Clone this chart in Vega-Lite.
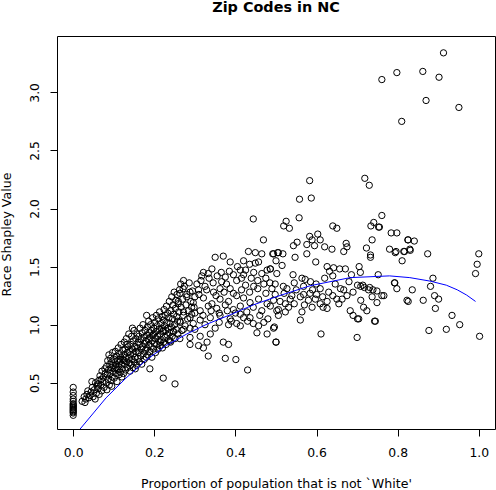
{
  "$schema": "https://vega.github.io/schema/vega-lite/v6.json",
  "width": 438,
  "height": 393,
  "autosize": {"type": "none"},
  "padding": {"left": 57, "top": 36, "right": 1, "bottom": 61},
  "title": {
    "text": "Zip Codes in NC",
    "font": "DejaVu Sans",
    "fontSize": 14.4,
    "fontWeight": "bold",
    "color": "#000",
    "anchor": "middle",
    "baseline": "alphabetic",
    "offset": 10
  },
  "config": {
    "view": {"stroke": "#000", "strokeWidth": 1},
    "axis": {
      "labelFont": "DejaVu Sans",
      "titleFont": "DejaVu Sans",
      "labelFontSize": 12.4,
      "titleFontSize": 12.6,
      "titleFontWeight": "normal",
      "labelColor": "#000",
      "titleColor": "#000",
      "tickColor": "#000",
      "tickSize": 7,
      "domain": false,
      "grid": false
    }
  },
  "layer": [
    {
      "data": {
        "values": [
          {"x": 0, "y": 0.46}, {"x": 0, "y": 0.42}, {"x": 0, "y": 0.39}, {"x": 0, "y": 0.36}, {"x": 0, "y": 0.34},
          {"x": 0, "y": 0.32}, {"x": 0, "y": 0.31}, {"x": 0, "y": 0.30}, {"x": 0, "y": 0.29}, {"x": 0, "y": 0.28},
          {"x": 0, "y": 0.27}, {"x": 0, "y": 0.26}, {"x": 0, "y": 0.25}, {"x": 0, "y": 0.24}, {"x": 0, "y": 0.22},
          {"x": 0.022, "y": 0.34}, {"x": 0.027, "y": 0.38}, {"x": 0.031, "y": 0.36}, {"x": 0.034, "y": 0.40},
          {"x": 0.038, "y": 0.37}, {"x": 0.036, "y": 0.43}, {"x": 0.041, "y": 0.39}, {"x": 0.029, "y": 0.33},
          {"x": 0.044, "y": 0.42}, {"x": 0.047, "y": 0.46}, {"x": 0.049, "y": 0.38}, {"x": 0.052, "y": 0.44},
          {"x": 0.055, "y": 0.50}, {"x": 0.057, "y": 0.41}, {"x": 0.059, "y": 0.47}, {"x": 0.054, "y": 0.36},
          {"x": 0.046, "y": 0.51}, {"x": 0.061, "y": 0.45}, {"x": 0.063, "y": 0.52}, {"x": 0.064, "y": 0.40},
          {"x": 0.066, "y": 0.56}, {"x": 0.068, "y": 0.48}, {"x": 0.070, "y": 0.43}, {"x": 0.071, "y": 0.60},
          {"x": 0.073, "y": 0.51}, {"x": 0.075, "y": 0.55}, {"x": 0.076, "y": 0.46}, {"x": 0.078, "y": 0.62},
          {"x": 0.079, "y": 0.58}, {"x": 0.062, "y": 0.49}, {"x": 0.069, "y": 0.53},
          {"x": 0.081, "y": 0.50}, {"x": 0.082, "y": 0.64}, {"x": 0.083, "y": 0.44}, {"x": 0.084, "y": 0.57},
          {"x": 0.085, "y": 0.69}, {"x": 0.086, "y": 0.53}, {"x": 0.087, "y": 0.61}, {"x": 0.088, "y": 0.74},
          {"x": 0.089, "y": 0.48}, {"x": 0.090, "y": 0.66}, {"x": 0.091, "y": 0.58}, {"x": 0.092, "y": 0.71},
          {"x": 0.093, "y": 0.52}, {"x": 0.094, "y": 0.63}, {"x": 0.095, "y": 0.68}, {"x": 0.096, "y": 0.55},
          {"x": 0.097, "y": 0.76}, {"x": 0.098, "y": 0.60}, {"x": 0.099, "y": 0.65}, {"x": 0.095, "y": 0.47},
          {"x": 0.101, "y": 0.54}, {"x": 0.102, "y": 0.70}, {"x": 0.103, "y": 0.62}, {"x": 0.104, "y": 0.77},
          {"x": 0.105, "y": 0.58}, {"x": 0.106, "y": 0.66}, {"x": 0.107, "y": 0.73}, {"x": 0.108, "y": 0.51},
          {"x": 0.109, "y": 0.69}, {"x": 0.110, "y": 0.61}, {"x": 0.111, "y": 0.80}, {"x": 0.112, "y": 0.64},
          {"x": 0.113, "y": 0.57}, {"x": 0.114, "y": 0.75}, {"x": 0.115, "y": 0.68}, {"x": 0.116, "y": 0.59},
          {"x": 0.117, "y": 0.72}, {"x": 0.118, "y": 0.83}, {"x": 0.119, "y": 0.66}, {"x": 0.120, "y": 0.55},
          {"x": 0.105, "y": 0.63}, {"x": 0.113, "y": 0.70},
          {"x": 0.121, "y": 0.62}, {"x": 0.122, "y": 0.78}, {"x": 0.123, "y": 0.70}, {"x": 0.124, "y": 0.58},
          {"x": 0.125, "y": 0.74}, {"x": 0.126, "y": 0.85}, {"x": 0.127, "y": 0.66}, {"x": 0.128, "y": 0.79},
          {"x": 0.129, "y": 0.61}, {"x": 0.130, "y": 0.72}, {"x": 0.131, "y": 0.88}, {"x": 0.132, "y": 0.68},
          {"x": 0.133, "y": 0.76}, {"x": 0.134, "y": 0.63}, {"x": 0.135, "y": 0.81}, {"x": 0.136, "y": 0.71},
          {"x": 0.137, "y": 0.92}, {"x": 0.138, "y": 0.67}, {"x": 0.139, "y": 0.77}, {"x": 0.140, "y": 0.60},
          {"x": 0.126, "y": 0.69}, {"x": 0.133, "y": 0.83},
          {"x": 0.141, "y": 0.74}, {"x": 0.142, "y": 0.83}, {"x": 0.143, "y": 0.66}, {"x": 0.144, "y": 0.90},
          {"x": 0.145, "y": 0.70}, {"x": 0.146, "y": 0.79}, {"x": 0.147, "y": 0.63}, {"x": 0.148, "y": 0.86},
          {"x": 0.149, "y": 0.75}, {"x": 0.150, "y": 0.95}, {"x": 0.151, "y": 0.68}, {"x": 0.152, "y": 0.81},
          {"x": 0.153, "y": 0.72}, {"x": 0.154, "y": 0.88}, {"x": 0.155, "y": 0.77}, {"x": 0.156, "y": 0.65},
          {"x": 0.157, "y": 0.92}, {"x": 0.158, "y": 0.80}, {"x": 0.159, "y": 0.71}, {"x": 0.160, "y": 0.85},
          {"x": 0.146, "y": 0.97}, {"x": 0.153, "y": 0.62},
          {"x": 0.161, "y": 0.76}, {"x": 0.162, "y": 0.90}, {"x": 0.163, "y": 0.68}, {"x": 0.164, "y": 0.83},
          {"x": 0.165, "y": 0.97}, {"x": 0.166, "y": 0.73}, {"x": 0.167, "y": 0.87}, {"x": 0.168, "y": 0.79},
          {"x": 0.169, "y": 0.66}, {"x": 0.170, "y": 0.93}, {"x": 0.171, "y": 0.81}, {"x": 0.172, "y": 1.00},
          {"x": 0.173, "y": 0.75}, {"x": 0.174, "y": 0.89}, {"x": 0.175, "y": 0.70}, {"x": 0.176, "y": 0.84},
          {"x": 0.177, "y": 0.95}, {"x": 0.178, "y": 0.78}, {"x": 0.179, "y": 0.86}, {"x": 0.180, "y": 0.72},
          {"x": 0.181, "y": 0.91}, {"x": 0.182, "y": 0.80}, {"x": 0.183, "y": 0.98}, {"x": 0.184, "y": 0.74},
          {"x": 0.185, "y": 0.87}, {"x": 0.186, "y": 1.03}, {"x": 0.187, "y": 0.83}, {"x": 0.188, "y": 0.93},
          {"x": 0.189, "y": 0.77}, {"x": 0.190, "y": 0.89}, {"x": 0.191, "y": 1.00}, {"x": 0.192, "y": 0.81},
          {"x": 0.193, "y": 0.95}, {"x": 0.194, "y": 0.72}, {"x": 0.195, "y": 0.86}, {"x": 0.196, "y": 1.06},
          {"x": 0.197, "y": 0.91}, {"x": 0.198, "y": 0.79}, {"x": 0.199, "y": 0.97}, {"x": 0.200, "y": 0.84},
          {"x": 0.201, "y": 1.02}, {"x": 0.202, "y": 0.88}, {"x": 0.203, "y": 0.76}, {"x": 0.204, "y": 0.94},
          {"x": 0.205, "y": 1.08}, {"x": 0.206, "y": 0.83}, {"x": 0.207, "y": 0.99}, {"x": 0.208, "y": 0.90},
          {"x": 0.209, "y": 0.79}, {"x": 0.210, "y": 1.05}, {"x": 0.211, "y": 0.86}, {"x": 0.212, "y": 0.96},
          {"x": 0.213, "y": 1.11}, {"x": 0.214, "y": 0.82}, {"x": 0.215, "y": 0.92}, {"x": 0.216, "y": 1.01},
          {"x": 0.217, "y": 0.87}, {"x": 0.218, "y": 0.97}, {"x": 0.219, "y": 1.07}, {"x": 0.220, "y": 0.80},
          {"x": 0.221, "y": 0.94}, {"x": 0.222, "y": 1.04}, {"x": 0.223, "y": 0.85}, {"x": 0.224, "y": 1.13},
          {"x": 0.225, "y": 0.99}, {"x": 0.226, "y": 0.89}, {"x": 0.227, "y": 1.08}, {"x": 0.228, "y": 0.95},
          {"x": 0.229, "y": 0.83}, {"x": 0.230, "y": 1.16}, {"x": 0.231, "y": 1.02}, {"x": 0.232, "y": 0.91},
          {"x": 0.233, "y": 1.10}, {"x": 0.234, "y": 0.97}, {"x": 0.235, "y": 0.87}, {"x": 0.236, "y": 1.06},
          {"x": 0.237, "y": 1.20}, {"x": 0.238, "y": 0.93}, {"x": 0.239, "y": 1.01}, {"x": 0.240, "y": 0.85},
          {"x": 0.241, "y": 1.12}, {"x": 0.242, "y": 0.98}, {"x": 0.243, "y": 1.24}, {"x": 0.244, "y": 0.90},
          {"x": 0.245, "y": 1.05}, {"x": 0.246, "y": 1.17}, {"x": 0.247, "y": 0.94}, {"x": 0.248, "y": 1.09},
          {"x": 0.249, "y": 1.28}, {"x": 0.250, "y": 1.00}, {"x": 0.251, "y": 0.88}, {"x": 0.252, "y": 1.14},
          {"x": 0.253, "y": 1.21}, {"x": 0.254, "y": 0.96}, {"x": 0.255, "y": 1.07}, {"x": 0.256, "y": 1.26},
          {"x": 0.257, "y": 1.03}, {"x": 0.258, "y": 0.92}, {"x": 0.259, "y": 1.18}, {"x": 0.260, "y": 1.11},
          {"x": 0.262, "y": 1.30}, {"x": 0.264, "y": 1.02}, {"x": 0.266, "y": 1.15}, {"x": 0.268, "y": 0.95},
          {"x": 0.270, "y": 1.22}, {"x": 0.272, "y": 1.08}, {"x": 0.274, "y": 1.33}, {"x": 0.276, "y": 0.99},
          {"x": 0.278, "y": 1.17}, {"x": 0.280, "y": 1.26}, {"x": 0.282, "y": 1.05}, {"x": 0.284, "y": 1.12},
          {"x": 0.286, "y": 1.36}, {"x": 0.288, "y": 0.97}, {"x": 0.290, "y": 1.20}, {"x": 0.292, "y": 1.09},
          {"x": 0.294, "y": 1.29}, {"x": 0.296, "y": 1.01}, {"x": 0.298, "y": 1.15}, {"x": 0.300, "y": 1.24},
          {"x": 0.265, "y": 1.35}, {"x": 0.271, "y": 1.31},
          {"x": 0.350, "y": 1.58}, {"x": 0.370, "y": 1.59}, {"x": 0.387, "y": 1.54}, {"x": 0.420, "y": 1.55},
          {"x": 0.432, "y": 1.63}, {"x": 0.449, "y": 1.62}, {"x": 0.465, "y": 1.61}, {"x": 0.492, "y": 1.61},
          {"x": 0.504, "y": 1.62}, {"x": 0.449, "y": 1.53}, {"x": 0.457, "y": 1.54}, {"x": 0.478, "y": 1.47},
          {"x": 0.486, "y": 1.48}, {"x": 0.412, "y": 1.47}, {"x": 0.385, "y": 1.46}, {"x": 0.439, "y": 1.40},
          {"x": 0.420, "y": 1.43}, {"x": 0.403, "y": 1.38}, {"x": 0.321, "y": 1.45}, {"x": 0.333, "y": 1.44},
          {"x": 0.342, "y": 1.48}, {"x": 0.317, "y": 1.42}, {"x": 0.366, "y": 1.37}, {"x": 0.378, "y": 1.35},
          {"x": 0.387, "y": 1.31}, {"x": 0.362, "y": 1.31}, {"x": 0.346, "y": 1.28}, {"x": 0.329, "y": 1.30},
          {"x": 0.309, "y": 1.30}, {"x": 0.288, "y": 1.28}, {"x": 0.263, "y": 1.27},
          {"x": 0.259, "y": 1.20}, {"x": 0.280, "y": 1.24}, {"x": 0.296, "y": 1.19}, {"x": 0.321, "y": 1.23},
          {"x": 0.342, "y": 1.18}, {"x": 0.362, "y": 1.22}, {"x": 0.383, "y": 1.20}, {"x": 0.403, "y": 1.25},
          {"x": 0.420, "y": 1.23}, {"x": 0.436, "y": 1.19}, {"x": 0.457, "y": 1.22}, {"x": 0.478, "y": 1.18},
          {"x": 0.498, "y": 1.26}, {"x": 0.506, "y": 1.13}, {"x": 0.486, "y": 1.16}, {"x": 0.465, "y": 1.12},
          {"x": 0.444, "y": 1.15}, {"x": 0.428, "y": 1.11}, {"x": 0.412, "y": 1.16}, {"x": 0.395, "y": 1.13},
          {"x": 0.375, "y": 1.17}, {"x": 0.354, "y": 1.14}, {"x": 0.333, "y": 1.16}, {"x": 0.313, "y": 1.12},
          {"x": 0.292, "y": 1.15}, {"x": 0.272, "y": 1.11}, {"x": 0.436, "y": 1.06}, {"x": 0.412, "y": 1.09},
          {"x": 0.387, "y": 1.05}, {"x": 0.362, "y": 1.08}, {"x": 0.338, "y": 1.06}, {"x": 0.313, "y": 1.04},
          {"x": 0.288, "y": 1.06}, {"x": 0.263, "y": 1.03}, {"x": 0.444, "y": 1.01}, {"x": 0.412, "y": 0.99},
          {"x": 0.383, "y": 1.00}, {"x": 0.350, "y": 0.97}, {"x": 0.325, "y": 1.00}, {"x": 0.300, "y": 0.96},
          {"x": 0.272, "y": 0.96}, {"x": 0.247, "y": 0.94}, {"x": 0.222, "y": 0.95}, {"x": 0.198, "y": 0.92},
          {"x": 0.338, "y": 0.92}, {"x": 0.313, "y": 0.90}, {"x": 0.288, "y": 0.89}, {"x": 0.263, "y": 0.88},
          {"x": 0.239, "y": 0.86}, {"x": 0.214, "y": 0.85},
          {"x": 0.305, "y": 1.35}, {"x": 0.315, "y": 1.38}, {"x": 0.325, "y": 1.33}, {"x": 0.335, "y": 1.40},
          {"x": 0.345, "y": 1.36}, {"x": 0.355, "y": 1.42}, {"x": 0.365, "y": 1.45}, {"x": 0.375, "y": 1.41},
          {"x": 0.395, "y": 1.43}, {"x": 0.405, "y": 1.50}, {"x": 0.415, "y": 1.40}, {"x": 0.425, "y": 1.47},
          {"x": 0.435, "y": 1.52}, {"x": 0.445, "y": 1.45}, {"x": 0.455, "y": 1.38}, {"x": 0.465, "y": 1.44},
          {"x": 0.475, "y": 1.40}, {"x": 0.485, "y": 1.36}, {"x": 0.395, "y": 1.27}, {"x": 0.415, "y": 1.30},
          {"x": 0.435, "y": 1.28}, {"x": 0.455, "y": 1.31}, {"x": 0.475, "y": 1.27}, {"x": 0.490, "y": 1.31},
          {"x": 0.310, "y": 1.26}, {"x": 0.352, "y": 1.25}, {"x": 0.372, "y": 1.28}, {"x": 0.425, "y": 1.34},
          {"x": 0.445, "y": 1.33}, {"x": 0.470, "y": 1.35}, {"x": 0.300, "y": 1.10}, {"x": 0.320, "y": 1.08},
          {"x": 0.340, "y": 1.12}, {"x": 0.360, "y": 1.10}, {"x": 0.380, "y": 1.12}, {"x": 0.400, "y": 1.10},
          {"x": 0.420, "y": 1.06}, {"x": 0.460, "y": 1.08}, {"x": 0.480, "y": 1.05}, {"x": 0.360, "y": 1.02},
          {"x": 0.390, "y": 1.03}, {"x": 0.430, "y": 1.03}, {"x": 0.470, "y": 1.02},
          {"x": 0.181, "y": 1.08}, {"x": 0.272, "y": 1.38}, {"x": 0.444, "y": 1.91}, {"x": 0.469, "y": 1.73},
          {"x": 0.370, "y": 0.85}, {"x": 0.383, "y": 0.83}, {"x": 0.453, "y": 0.93}, {"x": 0.478, "y": 0.92},
          {"x": 0.457, "y": 0.99}, {"x": 0.494, "y": 0.97}, {"x": 0.500, "y": 0.85}, {"x": 0.403, "y": 1.01},
          {"x": 0.330, "y": 0.85}, {"x": 0.288, "y": 0.83}, {"x": 0.309, "y": 0.82}, {"x": 0.189, "y": 0.62},
          {"x": 0.222, "y": 0.54}, {"x": 0.251, "y": 0.49}, {"x": 0.375, "y": 0.71}, {"x": 0.401, "y": 0.70},
          {"x": 0.430, "y": 0.61}, {"x": 0.321, "y": 0.80}, {"x": 0.333, "y": 0.73},
          {"x": 0.583, "y": 2.24}, {"x": 0.719, "y": 2.26}, {"x": 0.730, "y": 2.20}, {"x": 0.558, "y": 2.08},
          {"x": 0.587, "y": 2.09}, {"x": 0.557, "y": 1.92}, {"x": 0.525, "y": 1.89}, {"x": 0.519, "y": 1.85},
          {"x": 0.533, "y": 1.83}, {"x": 0.761, "y": 1.94}, {"x": 0.741, "y": 1.88}, {"x": 0.734, "y": 1.85},
          {"x": 0.753, "y": 1.84}, {"x": 0.640, "y": 1.85}, {"x": 0.650, "y": 1.83}, {"x": 0.784, "y": 1.79},
          {"x": 0.798, "y": 1.79}, {"x": 0.737, "y": 1.73}, {"x": 0.825, "y": 1.73}, {"x": 0.583, "y": 1.76},
          {"x": 0.603, "y": 1.78}, {"x": 0.589, "y": 1.73}, {"x": 0.609, "y": 1.73}, {"x": 0.552, "y": 1.71},
          {"x": 0.543, "y": 1.68}, {"x": 0.576, "y": 1.69}, {"x": 0.595, "y": 1.68}, {"x": 0.620, "y": 1.67},
          {"x": 0.638, "y": 1.65}, {"x": 0.673, "y": 1.70}, {"x": 0.675, "y": 1.67}, {"x": 0.667, "y": 1.63},
          {"x": 0.723, "y": 1.66}, {"x": 0.733, "y": 1.60}, {"x": 0.733, "y": 1.58}, {"x": 0.780, "y": 1.65},
          {"x": 0.796, "y": 1.63}, {"x": 0.815, "y": 1.63}, {"x": 0.830, "y": 1.65}, {"x": 0.811, "y": 1.55},
          {"x": 0.494, "y": 1.61}, {"x": 0.506, "y": 1.62}, {"x": 0.517, "y": 1.61}, {"x": 0.500, "y": 1.55},
          {"x": 0.515, "y": 1.51}, {"x": 0.547, "y": 1.58}, {"x": 0.576, "y": 1.61}, {"x": 0.598, "y": 1.54},
          {"x": 0.626, "y": 1.50}, {"x": 0.642, "y": 1.49}, {"x": 0.632, "y": 1.46}, {"x": 0.657, "y": 1.48},
          {"x": 0.671, "y": 1.48}, {"x": 0.686, "y": 1.43}, {"x": 0.705, "y": 1.50}, {"x": 0.708, "y": 1.45},
          {"x": 0.752, "y": 1.43}, {"x": 0.542, "y": 1.43}, {"x": 0.502, "y": 1.44}, {"x": 0.486, "y": 1.48},
          {"x": 0.564, "y": 1.40}, {"x": 0.572, "y": 1.39}, {"x": 0.599, "y": 1.35}, {"x": 0.609, "y": 1.31},
          {"x": 0.646, "y": 1.35}, {"x": 0.659, "y": 1.31}, {"x": 0.667, "y": 1.30}, {"x": 0.701, "y": 1.34},
          {"x": 0.709, "y": 1.33}, {"x": 0.718, "y": 1.32}, {"x": 0.731, "y": 1.32}, {"x": 0.749, "y": 1.29},
          {"x": 0.766, "y": 1.25}, {"x": 0.792, "y": 1.36}, {"x": 0.798, "y": 1.31}, {"x": 0.823, "y": 1.21},
          {"x": 0.737, "y": 1.24}, {"x": 0.749, "y": 1.19}, {"x": 0.709, "y": 1.21}, {"x": 0.716, "y": 1.15},
          {"x": 0.683, "y": 1.12}, {"x": 0.690, "y": 1.08}, {"x": 0.701, "y": 1.05}, {"x": 0.724, "y": 1.12},
          {"x": 0.745, "y": 1.03}, {"x": 0.650, "y": 1.22}, {"x": 0.663, "y": 1.22}, {"x": 0.626, "y": 1.20},
          {"x": 0.626, "y": 1.14}, {"x": 0.609, "y": 1.18}, {"x": 0.616, "y": 1.15}, {"x": 0.589, "y": 1.15},
          {"x": 0.580, "y": 1.21}, {"x": 0.597, "y": 1.22}, {"x": 0.584, "y": 1.27}, {"x": 0.568, "y": 1.26},
          {"x": 0.560, "y": 1.24}, {"x": 0.564, "y": 1.11}, {"x": 0.560, "y": 1.04}, {"x": 0.523, "y": 1.18},
          {"x": 0.531, "y": 1.15}, {"x": 0.502, "y": 1.12}, {"x": 0.506, "y": 1.08}, {"x": 0.523, "y": 1.11},
          {"x": 0.496, "y": 0.98}, {"x": 0.494, "y": 1.21}, {"x": 0.518, "y": 1.33}, {"x": 0.527, "y": 1.31},
          {"x": 0.498, "y": 1.35}, {"x": 0.568, "y": 1.33}, {"x": 0.539, "y": 1.25},
          {"x": 0.510, "y": 1.20}, {"x": 0.520, "y": 1.27}, {"x": 0.535, "y": 1.22}, {"x": 0.545, "y": 1.18},
          {"x": 0.550, "y": 1.30}, {"x": 0.570, "y": 1.17}, {"x": 0.590, "y": 1.30}, {"x": 0.600, "y": 1.26},
          {"x": 0.615, "y": 1.24}, {"x": 0.630, "y": 1.28}, {"x": 0.640, "y": 1.25}, {"x": 0.655, "y": 1.18},
          {"x": 0.675, "y": 1.25}, {"x": 0.690, "y": 1.28}, {"x": 0.545, "y": 1.36}, {"x": 0.585, "y": 1.37},
          {"x": 0.620, "y": 1.40}, {"x": 0.640, "y": 1.42}, {"x": 0.680, "y": 1.37},
          {"x": 1.000, "y": 1.61}, {"x": 0.996, "y": 1.52}, {"x": 0.992, "y": 1.44}, {"x": 1.002, "y": 0.90},
          {"x": 0.953, "y": 1.00}, {"x": 0.934, "y": 1.08}, {"x": 0.920, "y": 0.96}, {"x": 0.877, "y": 0.95},
          {"x": 0.874, "y": 1.61}, {"x": 0.887, "y": 1.40}, {"x": 0.881, "y": 1.33}, {"x": 0.891, "y": 1.25},
          {"x": 0.901, "y": 1.22}, {"x": 0.893, "y": 1.14}, {"x": 0.863, "y": 1.21}, {"x": 0.826, "y": 1.20},
          {"x": 0.836, "y": 1.30}, {"x": 0.793, "y": 1.36}, {"x": 0.831, "y": 1.64}, {"x": 0.817, "y": 1.63},
          {"x": 0.794, "y": 1.62}, {"x": 0.826, "y": 1.73}, {"x": 0.841, "y": 1.72}, {"x": 0.755, "y": 1.84},
          {"x": 0.743, "y": 1.03}, {"x": 0.700, "y": 0.89}, {"x": 0.611, "y": 0.92}, {"x": 0.500, "y": 0.85},
          {"x": 0.704, "y": 1.05}, {"x": 0.761, "y": 1.25}, {"x": 0.728, "y": 1.30}, {"x": 0.739, "y": 1.30},
          {"x": 0.714, "y": 1.34},
          {"x": 0.761, "y": 3.11}, {"x": 0.798, "y": 3.17}, {"x": 0.862, "y": 3.18}, {"x": 0.902, "y": 3.13},
          {"x": 0.913, "y": 3.34}, {"x": 0.870, "y": 2.93}, {"x": 0.810, "y": 2.75}, {"x": 0.951, "y": 2.87}
        ]
      },
      "mark": {"type": "point", "shape": "circle", "filled": false, "stroke": "#000", "strokeWidth": 1, "size": 40, "opacity": 1},
      "encoding": {
        "x": {
          "field": "x",
          "type": "quantitative",
          "scale": {"domain": [-0.04, 1.04], "nice": false, "zero": false},
          "axis": {
            "values": [0, 0.2, 0.4, 0.6, 0.8, 1],
            "format": ".1f",
            "labelBaseline": "alphabetic",
            "labelPadding": 20.5,
            "title": "Proportion of population that is not `White'",
            "titleBaseline": "alphabetic",
            "titleY": 58
          }
        },
        "y": {
          "field": "y",
          "type": "quantitative",
          "scale": {"domain": [0.102, 3.485], "nice": false, "zero": false},
          "axis": {
            "values": [0.5, 1, 1.5, 2, 2.5, 3],
            "format": ".1f",
            "labelAngle": 270,
            "labelAlign": "center",
            "labelBaseline": "alphabetic",
            "labelPadding": 12,
            "title": "Race Shapley Value",
            "titleAngle": 270,
            "titleBaseline": "alphabetic",
            "titleX": -47,
            "titleY": 198
          }
        }
      }
    },
    {
      "data": {
        "values": [
          {"x": 0, "y": 0.03}, {"x": 0.0165, "y": 0.10}, {"x": 0.05, "y": 0.24}, {"x": 0.081, "y": 0.37},
          {"x": 0.13, "y": 0.54}, {"x": 0.18, "y": 0.695}, {"x": 0.229, "y": 0.82}, {"x": 0.28, "y": 0.92},
          {"x": 0.33, "y": 1.005}, {"x": 0.387, "y": 1.085}, {"x": 0.444, "y": 1.17}, {"x": 0.5, "y": 1.24},
          {"x": 0.584, "y": 1.335}, {"x": 0.683, "y": 1.405}, {"x": 0.78, "y": 1.42}, {"x": 0.83, "y": 1.405},
          {"x": 0.88, "y": 1.375}, {"x": 0.92, "y": 1.34}, {"x": 0.947, "y": 1.30}, {"x": 0.97, "y": 1.255},
          {"x": 0.992, "y": 1.20}
        ]
      },
      "mark": {"type": "line", "color": "#0000ff", "strokeWidth": 1, "clip": true},
      "encoding": {
        "x": {"field": "x", "type": "quantitative"},
        "y": {"field": "y", "type": "quantitative"}
      }
    }
  ]
}
